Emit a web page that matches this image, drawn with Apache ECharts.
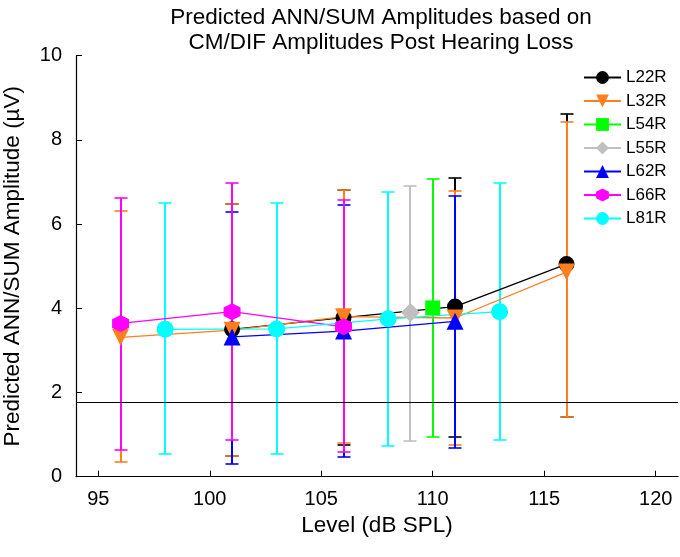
<!DOCTYPE html>
<html>
<head>
<meta charset="utf-8">
<script src="https://cdn.jsdelivr.net/npm/echarts@6/dist/echarts.min.js"></script>
<style>html,body{margin:0;padding:0;background:#fff;}#c{width:680px;height:557px;}</style>
</head>
<body>
<div id="c"></div>
<script>
// ---- data ----
var seriesNames = ['L22R','L32R','L54R','L55R','L62R','L66R','L81R'];
var L22R_x = [101,106,111,116];
var L22R_y = [3.50,3.78,4.04,5.05];
var L22R_lo = [0.50,0.75,0.95,1.41];
var L22R_hi = [6.48,6.80,7.10,8.62];

var L32R_x = [96,101,106,111,116];
var L32R_y = [3.31,3.48,3.80,3.77,4.86];
var L32R_lo = [0.36,0.50,0.79,0.75,1.41];
var L32R_hi = [6.32,6.48,6.80,6.79,8.42];

var L54R_x = [110];
var L54R_y = [4.01];
var L54R_lo = [0.94];
var L54R_hi = [7.08];

var L55R_x = [109];
var L55R_y = [3.90];
var L55R_lo = [0.85];
var L55R_hi = [6.91];

var L62R_x = [101,106,111];
var L62R_y = [3.32,3.46,3.69];
var L62R_lo = [0.31,0.475,0.67];
var L62R_hi = [6.28,6.45,6.67];

var L66R_x = [96,101,106];
var L66R_y = [3.64,3.92,3.56];
var L66R_lo = [0.63,0.87,0.58];
var L66R_hi = [6.61,6.97,6.57];

var L81R_x = [98,103,108,113];
var L81R_y = [3.50,3.51,3.75,3.92];
var L81R_lo = [0.53,0.54,0.74,0.87];
var L81R_hi = [6.49,6.51,6.755,6.98];

var thresholdY = 1.78;
var xTicks = [95,100,105,110,115,120];

// ---- styling ----
var hexPath = 'path://M0,-1 L0.866,-0.5 L0.866,0.5 L0,1 L-0.866,0.5 L-0.866,-0.5 Z';
var styles = {
  L22R: {color:'#000000', symbol:'circle', size:16, rotate:0},
  L32R: {color:'#ff7f1e', symbol:'triangle', size:17, rotate:180},
  L54R: {color:'#00ff00', symbol:'rect', size:15, rotate:0},
  L55R: {color:'#c0c0c0', symbol:'diamond', size:19, rotate:0},
  L62R: {color:'#0000ff', symbol:'triangle', size:17, rotate:0},
  L66R: {color:'#ff00ff', symbol:hexPath, size:17, rotate:0},
  L81R: {color:'#00ffff', symbol:'circle', size:17, rotate:0}
};
var dataSets = {
  L22R:[L22R_x,L22R_y,L22R_lo,L22R_hi],
  L32R:[L32R_x,L32R_y,L32R_lo,L32R_hi],
  L54R:[L54R_x,L54R_y,L54R_lo,L54R_hi],
  L55R:[L55R_x,L55R_y,L55R_lo,L55R_hi],
  L62R:[L62R_x,L62R_y,L62R_lo,L62R_hi],
  L66R:[L66R_x,L66R_y,L66R_lo,L66R_hi],
  L81R:[L81R_x,L81R_y,L81R_lo,L81R_hi]
};

var FONT = 'Liberation Sans, Arial, sans-serif';
var series = [];
seriesNames.forEach(function(name, idx){
  var d = dataSets[name], st = styles[name];
  var errData = d[0].map(function(x,i){ return [x, d[2][i], d[3][i]]; });
  series.push({
    type:'custom', name: name + '_err', silent:true,
    data: errData,
    encode:{x:0, y:[1,2]},
    renderItem: function(params, api){
      var x = api.value(0);
      var p1 = api.coord([x, api.value(1)]);
      var p2 = api.coord([x, api.value(2)]);
      var px = Math.round(p1[0]);
      var y1 = Math.round(p1[1]), y2 = Math.round(p2[1]);
      var cw = 6.5;
      var s = {stroke: st.color, lineWidth: 2};
      return {type:'group', children:[
        {type:'line', shape:{x1:px,y1:y1,x2:px,y2:y2}, style:s},
        {type:'line', shape:{x1:px-cw,y1:y1,x2:px+cw,y2:y1}, style:{stroke:st.color, lineWidth:1.6}},
        {type:'line', shape:{x1:px-cw,y1:y2,x2:px+cw,y2:y2}, style:{stroke:st.color, lineWidth:1.6}}
      ]};
    }
  });
  var line = {
    type:'line', name:name,
    data: d[0].map(function(x,i){ return [x, d[1][i]]; }),
    symbol: st.symbol, symbolSize: st.size, symbolRotate: st.rotate,
    showAllSymbol:true,
    lineStyle:{color:st.color, width:1.3},
    itemStyle:{color:st.color, opacity:1},
    emphasis:{disabled:true},
    animation:false
  };
  if (idx === 0) {
    line.markLine = {
      silent:true, symbol:['none','none'], label:{show:false},
      lineStyle:{color:'#000', width:1, type:'solid'},
      data:[{yAxis: thresholdY}],
      animation:false
    };
  }
  series.push(line);
});

var chart = echarts.init(document.getElementById('c'));
chart.setOption({
  animation:false,
  backgroundColor:'#fff',
  title:{
    text:'Predicted ANN/SUM Amplitudes based on\nCM/DIF Amplitudes Post Hearing Loss',
    left:376, textAlign:'center', top:0,
    textStyle:{fontFamily:FONT, fontSize:22.5, fontWeight:'normal', color:'#000', lineHeight:25}
  },
  legend:{
    data: seriesNames,
    left:578, top:64, orient:'vertical',
    itemWidth:37, itemHeight:16, itemGap:6.5,
    textStyle:{fontFamily:FONT, fontSize:17, color:'#000'},
    selectedMode:false
  },
  grid:{left:76, right:2, top:55.7, bottom:80.3, containLabel:false, outerBoundsMode:'none'},
  xAxis:{
    type:'value', min:94, max:121,
    interval:5,
    axisLine:{show:true, lineStyle:{color:'#000', width:1.2}},
    axisTick:{show:true, inside:true, length:6, lineStyle:{color:'#000'}, customValues: xTicks},
    axisLabel:{fontFamily:FONT, fontSize:20, color:'#000', margin:13, customValues: xTicks},
    splitLine:{show:false},
    name:'Level (dB SPL)', nameLocation:'middle', nameGap:36,
    nameTextStyle:{fontFamily:FONT, fontSize:22.5, color:'#000'}
  },
  yAxis:{
    type:'value', min:0, max:10, interval:2,
    axisLine:{show:true, lineStyle:{color:'#000', width:1.2}},
    axisTick:{show:true, inside:true, length:6, lineStyle:{color:'#000'}},
    axisLabel:{fontFamily:FONT, fontSize:20, color:'#000', margin:14},
    splitLine:{show:false},
    name:'Predicted ANN/SUM Amplitude (\u00b5V)', nameLocation:'middle', nameGap:52,
    nameTextStyle:{fontFamily:FONT, fontSize:22.5, color:'#000'}
  },
  series: series
});
</script>
</body>
</html>
